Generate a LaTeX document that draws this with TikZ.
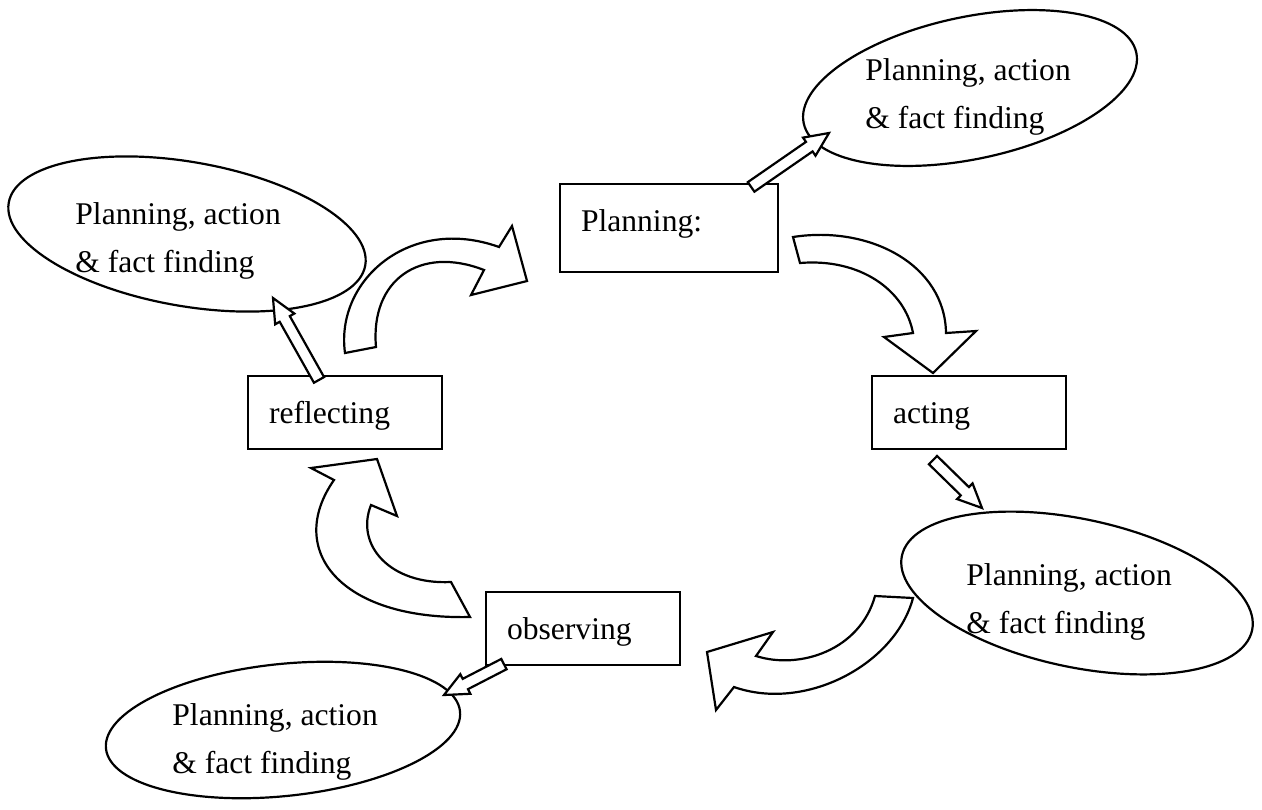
\documentclass[tikz,border=0pt]{standalone}
\usepackage{fontspec}
\setmainfont{Liberation Serif}
\usetikzlibrary{calc, shapes.geometric}

\tikzset{
stage/.style={draw, line width=1.1pt, inner xsep=10.5pt, inner ysep=0pt, text width=76pt, minimum height=36.5pt, text height=12pt, text depth=1.5pt, align=left},
bubble/.style={draw, ellipse, line width=1.1pt, inner sep=0pt},
bubtext/.style={align=left, inner sep=0pt, anchor=base west},
bigarrow/.style={draw, line width=1.1pt, line join=miter},
smallarrow/.style={draw, fill=white, line width=1.1pt, line join=miter}
}

\newcommand\hollowarrow[2]{%
\coordinate (hb) at ($(#2)!12pt!(#1)$);
\draw[smallarrow] ($(#1)!2.9pt!90:(#2)$) -- ($(hb)!2.9pt!90:(#2)$) -- ($(hb)!5.5pt!90:(#2)$) -- (#2)
-- ($(hb)!5.5pt!-90:(#2)$) -- ($(hb)!2.9pt!-90:(#2)$) -- ($(#1)!2.9pt!-90:(#2)$) -- cycle;
}

\begin{document}
\begin{tikzpicture}[x=.5pt, y=-.5pt, font=\fontsize{15.8pt}{24pt}\selectfont]

\useasboundingbox (0,0) rectangle (1262,809);

\node[bubble, minimum width=170pt, minimum height=71pt, rotate=12] (trb) at (970,88) {};
\node[bubble, minimum width=181pt, minimum height=72pt, rotate=-10] (tlb) at (187,234) {};
\node[bubble, minimum width=179pt, minimum height=74pt, rotate=-12] (brb) at (1077,593) {};
\node[bubble, minimum width=178pt, minimum height=66pt, rotate=6] (blb) at (283,730) {};

\node[bubtext] (trt) at (865,128) {Planning, action\\\& fact finding};
\node[bubtext] (tlt) at (75,272) {Planning, action\\\& fact finding};
\node[bubtext] (brt) at (966,633) {Planning, action\\\& fact finding};
\node[bubtext] (blt) at (172,773) {Planning, action\\\& fact finding};

\node[stage, text width=88pt, minimum height=44pt, text depth=9pt] (plan) at (669,228) {Planning:};
\node[stage] (act) at (969,412.5) {acting};
\node[stage] (obs) at (583,628.5) {observing};
\node[stage] (refl) at (345,412.5) {reflecting};

\draw[bigarrow] (793,237) .. controls (870,225) and (945,265) .. (946,333) -- (976,331) -- (933,373) -- (884,337)
-- (913,333) .. controls (905,290) and (860,258) .. (800,263) -- cycle;
\draw[bigarrow] (913,598) .. controls (895,665) and (805,712) .. (734,687) -- (716,710) -- (707,652) -- (773,632)
-- (756,656) .. controls (800,670) and (860,650) .. (875,596) -- cycle;
\draw[bigarrow] (470,617) .. controls (340,620) and (285,550) .. (334,480) -- (311,468) -- (377,459) -- (397,516)
-- (371,505) .. controls (355,545) and (390,585) .. (451,582) -- cycle;
\draw[bigarrow] (345,353) .. controls (335,280) and (410,215) .. (499,247) -- (512,226) -- (527,281) -- (471,295)
-- (484,270) .. controls (420,245) and (370,280) .. (376,347) -- cycle;

\coordinate (planout) at ([xshift=-14pt, yshift=-2pt]plan.north east);
\coordinate (actout) at ([xshift=-18pt, yshift=-5pt]act.south);
\coordinate (reflout) at ([xshift=-13pt, yshift=-2.5pt]refl.north);
\coordinate (obsout) at ([xshift=9.5pt, yshift=1pt]obs.south west);
\coordinate (trin) at (829,133);
\coordinate (brin) at (982,508);
\coordinate (tlin) at (273,298);
\coordinate (blin) at (444,695);

\hollowarrow{planout}{trin}
\hollowarrow{actout}{brin}
\hollowarrow{reflout}{tlin}
\hollowarrow{obsout}{blin}

\end{tikzpicture}
\end{document}
